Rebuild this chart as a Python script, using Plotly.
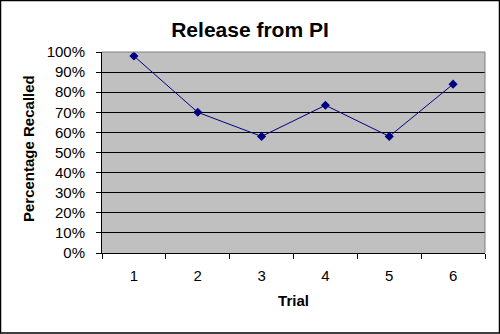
import plotly.graph_objects as go

# Recall data per trial
trials = ["1", "2", "3", "4", "5", "6"]
recalled = [0.98, 0.70, 0.58, 0.735, 0.58, 0.84]

FONT = "Arial, 'Liberation Sans', sans-serif"

# plot-area geometry in pixels
W, H = 500, 334
L, R, T, B = 102, 15, 52, 81
PW, PH = W - L - R, H - T - B

def px_x(p):
    return (p - L) / PW

def px_y(p):
    return (H - B - p) / PH

fig = go.Figure()
fig.add_trace(go.Scatter(
    x=trials, y=recalled, mode="lines+markers",
    line=dict(color="#000080", width=1),
    marker=dict(symbol="diamond", size=7, color="#000080"),
    showlegend=False, hoverinfo="skip",
))

fig.update_layout(
    width=W, height=H,
    margin=dict(l=L, r=R, t=T, b=B),
    paper_bgcolor="white",
    plot_bgcolor="#C0C0C0",
    font=dict(family=FONT, color="black"),
    title=dict(text="<b>Release from PI</b>", x=0.5, xref="container", xanchor="center",
               y=1 - 30 / H, yanchor="middle", yref="container",
               font=dict(size=21, family=FONT, color="black")),
    xaxis=dict(
        type="category", range=[-0.5, 5.5], tickson="boundaries",
        ticks="outside", ticklen=5, tickcolor="black", tickwidth=1,
        showline=True, linecolor="black", linewidth=1,
        showgrid=False, ticklabelstandoff=9,
        tickfont=dict(size=15, family=FONT, color="black"),
        title=dict(text="<b>Trial</b>", standoff=12,
                   font=dict(size=15, family=FONT, color="black")),
    ),
    yaxis=dict(
        range=[0, 1], dtick=0.1, tick0=0, tickformat=".0%",
        ticks="outside", ticklen=5, tickcolor="black", tickwidth=1,
        showline=True, linecolor="black", linewidth=1,
        showgrid=True, gridcolor="black", gridwidth=1,
        zeroline=False, ticklabelstandoff=8,
        tickfont=dict(size=15, family=FONT, color="black"),
        title=None,
    ),
    annotations=[dict(
        text="<b>Percentage Recalled</b>", textangle=-90,
        x=px_x(28), y=px_y(149), xref="paper", yref="paper",
        xanchor="center", yanchor="middle", showarrow=False,
        font=dict(size=15, family=FONT, color="black"),
    )],
    shapes=[
        # gray top and right edges of the plot area
        dict(type="line", xref="paper", yref="paper", x0=0, x1=1, y0=1, y1=1,
             line=dict(color="#808080", width=1), layer="above"),
        dict(type="line", xref="paper", yref="paper", x0=1, x1=1, y0=0, y1=1,
             line=dict(color="#808080", width=1), layer="above"),
        # outer chart frame
        dict(type="rect", xref="paper", yref="paper",
             x0=px_x(0.5), x1=px_x(499.5), y0=px_y(333), y1=px_y(0.5),
             line=dict(color="black", width=1.5), layer="above"),
    ],
)

fig.write_html("out.html")
